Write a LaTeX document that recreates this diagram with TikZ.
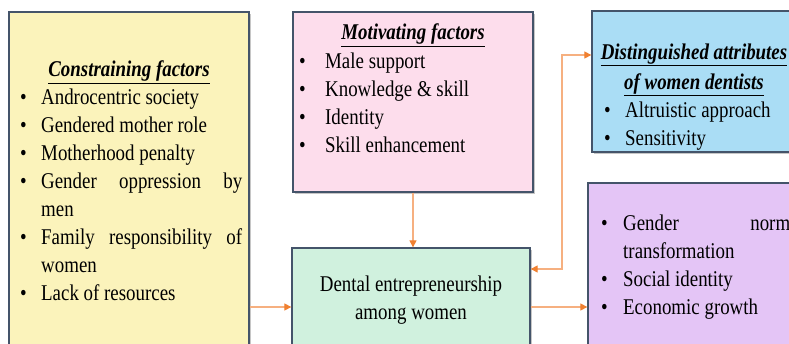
\documentclass[tikz,border=0pt]{standalone}
\usepackage{fontspec}
\setmainfont{Liberation Serif}[FakeStretch=0.84]
\usetikzlibrary{arrows.meta,shadows}

\definecolor{edge}{RGB}{68,84,106}
\definecolor{consfill}{RGB}{251,243,187}
\definecolor{motfill}{RGB}{253,221,236}
\definecolor{attrfill}{RGB}{170,221,245}
\definecolor{outfill}{RGB}{228,197,246}
\definecolor{entfill}{RGB}{208,241,222}
\definecolor{linkline}{RGB}{246,176,128}
\definecolor{linkhead}{RGB}{240,128,48}

\hyphenpenalty=10000
\tolerance=9999

% one bullet line, hanging under its own text
\newcommand{\point}[2][21pt]{\par\noindent\hangindent=#1\hangafter=1\makebox[#1][l]{\textbullet}\strut#2}
\newcommand{\heading}[1]{\underline{\textbf{\textit{#1}}}}
% spaces may stretch but never shrink
\newcommand{\widespaces}{\spaceskip=\fontdimen2\font plus \fontdimen2\font\relax}

\tikzset{
  factor/.style={draw=edge, line width=1.3pt, inner sep=0pt,
    drop shadow={shadow xshift=2pt,shadow yshift=-2pt,opacity=0.45}},
  items/.style={inner sep=0pt, anchor=north west, align=justify,
    font=\fontsize{22.5}{28}\selectfont\widespaces},
  title/.style={inner sep=0pt, align=center, font=\fontsize{22.5}{30}\selectfont},
  link/.style={draw=linkline, line width=1.2pt,
    -{Triangle[length=7pt,width=7pt,color=linkhead]}}
}

\begin{document}
\begin{tikzpicture}[x=1pt,y=-1pt]
  \useasboundingbox (0,0) rectangle (789,344);
  \clip (0,0) rectangle (789,344);

  % boxes
  \node[factor, fill=consfill, minimum width=240pt, minimum height=338pt] (cons) at (129,181) {};
  \node[factor, fill=motfill, minimum width=240pt, minimum height=180pt] (mot) at (413,102) {};
  \node[factor, fill=attrfill, minimum width=204pt, minimum height=141pt] (attr) at (694,81.5) {};
  \node[factor, fill=outfill, minimum width=222pt, minimum height=200pt] (out) at (699,283) {};
  \node[factor, fill=entfill, minimum width=238pt, minimum height=104pt, align=center,
    font=\fontsize{22.5}{28}\selectfont] (ent) at (411,300) {Dental entrepreneurship\\among women};

  % texts
  \node[title, anchor=base] (constitle) at (129,77) {\heading{Constraining factors}};
  \node[items, text width=222pt] (conslist) at (20,76.4) {%
    \point{Androcentric society}
    \point{Gendered mother role}
    \point{Motherhood penalty}
    \point{Gender oppression by men}
    \point{Family responsibility of women}
    \point{Lack of resources}};

  \node[title, anchor=base] (mottitle) at (413,40) {\heading{Motivating factors}};
  \node[items, text width=226pt] (motlist) at (299,40.4) {%
    \point[26pt]{Male support}
    \point[26pt]{Knowledge \& skill}
    \point[26pt]{Identity}
    \point[26pt]{Skill enhancement}};

  \node[title, anchor=north] (attrtitle) at (694,38) {\strut\heading{Distinguished attributes}\\\heading{of women dentists}};
  \node[items, text width=190pt] (attrlist) at (604,89.4) {%
    \point{Altruistic approach}
    \point{Sensitivity}};

  \node[items, text width=189pt] (outlist) at (601,202.4) {%
    \point[22pt]{Gender norm transformation}
    \point[22pt]{Social identity}
    \point[22pt]{Economic growth}};

  % connectors
  \coordinate (row) at (0,307);
  \coordinate (up) at (562,55);
  \coordinate (dn) at (562,269);
  \draw[link] (cons.east |- row) -- (ent.west |- row);
  \draw[link] (mot.south) -- (mot.south |- ent.north);
  \draw[link] (ent.east |- row) -- (out.west |- row);
  \draw[link, {Triangle[length=7pt,width=7pt,color=linkhead]}-{Triangle[length=7pt,width=7pt,color=linkhead]}]
    (ent.east |- dn) -- (dn) -- (up) -- (attr.west |- up);
\end{tikzpicture}
\end{document}
